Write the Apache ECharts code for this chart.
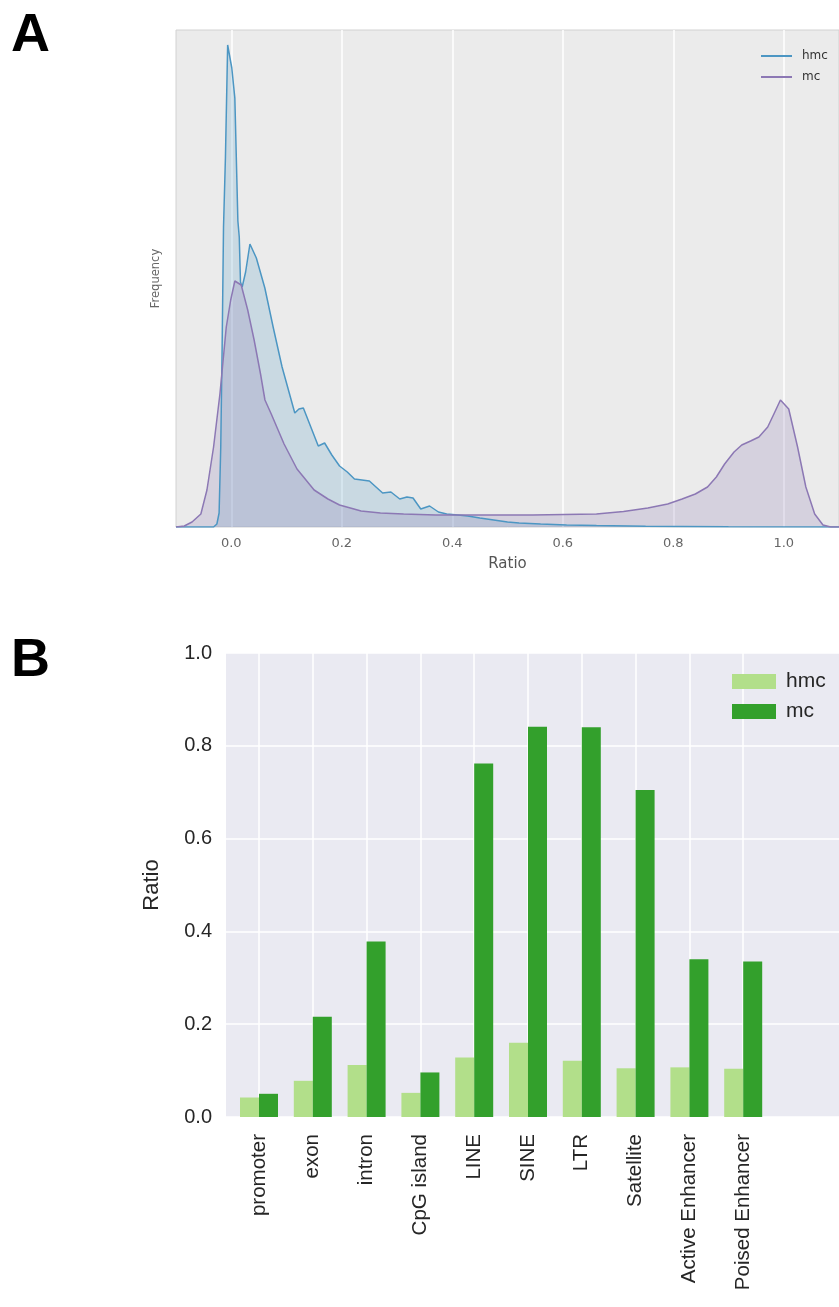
<!DOCTYPE html>
<html><head><meta charset="utf-8">
<script src="https://cdn.jsdelivr.net/npm/echarts@6/dist/echarts.min.js"></script>
<style>html,body{margin:0;padding:0;background:#fff}#c{width:839px;height:1307px}</style>
</head><body><div id="c"></div>
<script>
// ---------- Panel A: density of ratio ----------
const ratioTickLabels = ['0.0','0.2','0.4','0.6','0.8','1.0'];
const hmcKde = [[-0.100,0],[-0.032,0],[-0.026,0.03],[-0.022,0.14],[-0.019,0.8],[-0.0165,1.8],[-0.014,3.0],[-0.0105,3.7],[-0.0065,4.82],[0.001,4.59],[0.0065,4.29],[0.012,3.06],[0.0145,2.9],[0.0167,2.45],[0.0198,2.40],[0.026,2.55],[0.0338,2.83],[0.0454,2.69],[0.0608,2.39],[0.0762,1.99],[0.092,1.60],[0.107,1.30],[0.115,1.14],[0.1225,1.18],[0.1305,1.19],[0.144,1.0],[0.1575,0.81],[0.169,0.84],[0.182,0.72],[0.196,0.61],[0.21,0.55],[0.223,0.48],[0.25,0.46],[0.262,0.40],[0.274,0.34],[0.289,0.35],[0.305,0.28],[0.318,0.30],[0.329,0.29],[0.343,0.18],[0.359,0.21],[0.375,0.15],[0.39,0.13],[0.41,0.12],[0.428,0.11],[0.45,0.09],[0.475,0.07],[0.5,0.05],[0.521,0.04],[0.56,0.03],[0.607,0.02],[0.661,0.015],[0.75,0.008],[0.816,0.005],[0.9,0.002],[1.1,0]];
const mcKde = [[-0.100,0],[-0.085,0.01],[-0.071,0.05],[-0.055,0.13],[-0.044,0.37],[-0.032,0.80],[-0.0205,1.33],[-0.009,2.0],[-0.001,2.27],[0.0065,2.46],[0.018,2.42],[0.0298,2.17],[0.0414,1.87],[0.053,1.53],[0.061,1.27],[0.0724,1.13],[0.0956,0.83],[0.119,0.58],[0.15,0.37],[0.175,0.28],[0.196,0.22],[0.235,0.16],[0.27,0.14],[0.312,0.13],[0.37,0.12],[0.428,0.12],[0.545,0.12],[0.661,0.13],[0.71,0.155],[0.754,0.19],[0.79,0.23],[0.816,0.28],[0.84,0.33],[0.862,0.40],[0.878,0.50],[0.893,0.63],[0.91,0.75],[0.924,0.82],[0.94,0.86],[0.955,0.90],[0.971,1.0],[0.983,1.14],[0.994,1.27],[1.009,1.18],[1.025,0.80],[1.04,0.40],[1.056,0.13],[1.071,0.02],[1.085,0],[1.1,0]];

// ---------- Panel B: ratio per region ----------
const regions = ['promoter','exon','intron','CpG island','LINE','SINE','LTR','Satellite','Active Enhancer','Poised Enhancer'];
const hmcRatio = [0.042,0.078,0.112,0.052,0.128,0.160,0.121,0.105,0.107,0.104];
const mcRatio  = [0.050,0.216,0.378,0.096,0.762,0.841,0.840,0.705,0.340,0.335];

const fA = 'DejaVu Sans';
const fB = 'Liberation Sans, Arial, sans-serif';

const chart = echarts.init(document.getElementById('c'), null, {renderer:'canvas'});
chart.setOption({
  animation:false,
  backgroundColor:'#ffffff',
  title:[
    {text:'A', left:11, top:9, padding:0, textStyle:{fontSize:54, fontWeight:'bold', color:'#000', fontFamily:fB}},
    {text:'B', left:11, top:634, padding:0, textStyle:{fontSize:54, fontWeight:'bold', color:'#000', fontFamily:fB}}
  ],
  legend:[
    {data:['hmc','mc'], orient:'vertical', left:756, top:44, icon:'rect', itemWidth:31, itemHeight:2, itemGap:7,
     textStyle:{fontSize:12, color:'#333', fontFamily:fA, lineHeight:14, padding:[0,0,0,5]}},
    {data:['hmc_B','mc_B'], orient:'vertical', left:727, top:666, icon:'rect', itemWidth:44, itemHeight:15, itemGap:9,
     formatter:n=>n.replace('_B',''),
     textStyle:{fontSize:21, color:'#262626', fontFamily:fB, padding:[0,0,0,5]}}
  ],
  grid:[
    {left:176, right:0, top:30, height:497, show:true, backgroundColor:'#EBEBEB', borderColor:'#D2D2D2', borderWidth:1},
    {left:226, right:0, top:653, height:464, show:true, backgroundColor:'#EAEAF2', borderWidth:0},
    {left:259, right:95.8, top:653, height:464, show:false}
  ],
  xAxis:[
    {gridIndex:0, type:'value', min:-0.1, max:1.1, splitNumber:6,
     axisLine:{show:false}, axisTick:{show:false},
     axisLabel:{color:'#666', fontSize:13, margin:10, fontFamily:fA, showMinLabel:false, showMaxLabel:false,
       formatter:v=>{const s=v.toFixed(1); return (Math.abs(v*5-Math.round(v*5))<1e-6 && ratioTickLabels.includes(s))?s:'';}},
     splitLine:{show:true, showMinLine:false, showMaxLine:false, lineStyle:{color:'#ffffff', width:1.5}},
     name:'Ratio', nameLocation:'middle', nameGap:30, nameTextStyle:{color:'#555', fontSize:15, fontFamily:fA}},
    {gridIndex:1, type:'value', min:0, max:1, show:false},
    {gridIndex:2, type:'category', data:regions, boundaryGap:false,
     axisLine:{show:false}, axisTick:{show:false},
     axisLabel:{rotate:90, fontSize:20.5, color:'#262626', margin:17, interval:0, fontFamily:fB},
     splitLine:{show:true, interval:0, lineStyle:{color:'#ffffff', width:1.5}}}
  ],
  yAxis:[
    {gridIndex:0, type:'value', min:0, max:4.97, axisLabel:{show:false}, axisTick:{show:false}, axisLine:{show:false}, splitLine:{show:false},
     name:'Frequency', nameLocation:'middle', nameGap:14, nameTextStyle:{color:'#666', fontSize:11.5, fontFamily:fA}},
    {gridIndex:1, type:'value', min:0, max:1, interval:0.2, axisLine:{show:false}, axisTick:{show:false},
     axisLabel:{fontSize:20, color:'#262626', margin:14, fontFamily:fB, formatter:v=>v.toFixed(1)},
     splitLine:{show:true, lineStyle:{color:'#ffffff', width:1.5}},
     name:'Ratio', nameLocation:'middle', nameGap:63, nameTextStyle:{fontSize:22, color:'#262626', fontFamily:fB}},
    {gridIndex:2, type:'value', min:0, max:1, show:false}
  ],
  series:[
    {name:'hmc', type:'line', xAxisIndex:0, yAxisIndex:0, data:hmcKde, symbol:'none', color:'#4C96C3',
     lineStyle:{width:1.5, color:'#4C96C3'}, areaStyle:{color:'rgba(76,150,195,0.3)'}},
    {name:'mc', type:'line', xAxisIndex:0, yAxisIndex:0, data:mcKde, symbol:'none', color:'#8C78B4',
     lineStyle:{width:1.5, color:'#8C78B4'}, areaStyle:{color:'rgba(140,120,180,0.32)'}},
    {name:'hmc_B', type:'bar', xAxisIndex:2, yAxisIndex:2, data:hmcRatio, barWidth:19, barGap:'0%', clip:false, color:'#b2df8a', itemStyle:{color:'#b2df8a'}},
    {name:'mc_B', type:'bar', xAxisIndex:2, yAxisIndex:2, data:mcRatio, barWidth:19, barGap:'0%', clip:false, color:'#33a02c', itemStyle:{color:'#33a02c'}}
  ]
});
</script></body></html>
